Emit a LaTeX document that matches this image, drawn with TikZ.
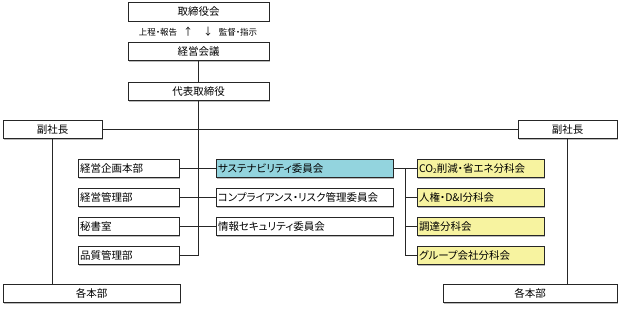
\documentclass[tikz,border=0pt]{standalone}
\usepackage{fontspec}
\setmainfont[RawFeature=+palt]{Noto Sans CJK JP}
\usetikzlibrary{shadows}
\definecolor{cyanfill}{HTML}{93D4DE}
\definecolor{yelfill}{HTML}{F7F3A0}
\definecolor{edge}{HTML}{262626}
\begin{document}
\begin{tikzpicture}[x=1pt,y=-1pt,
  box/.style={draw=edge, line width=0.8pt, fill=white, minimum height=18.5pt, inner ysep=0pt, inner xsep=2pt,
    font=\fontsize{10.5}{11}\selectfont,
    drop shadow={shadow xshift=1pt, shadow yshift=-1pt, fill=black!45, opacity=0.6}},
  cbox/.style={box, minimum width=#1},
  depbox/.style={box, text width=97pt, align=left},
  combox/.style={box, text width=173pt, align=left},
  subbox/.style={box, text width=123pt, align=left, fill=yelfill},
  conn/.style={draw=edge, line width=0.8pt},
  small/.style={inner sep=0pt, font=\fontsize{8.5}{9}\selectfont}]
\useasboundingbox (0,0) rectangle (620,308);

% top chain
\node[cbox=141pt] (board) at (198.5,12) {取締役会};
\node[cbox=141pt] (mgmt) at (198.5,51.5) {経営会議};
\node[cbox=141pt] (ceo) at (198.5,91.5) {代表取締役};
\node[small] (lblup) at (158,32) {上程・報告};
\node[small, font=\fontsize{10}{10}\selectfont] (arrup) at (188,32) {↑};
\node[small, font=\fontsize{10}{10}\selectfont] (arrdn) at (208,32) {↓};
\node[small] (lbldn) at (238,32) {監督・指示};

% vice presidents
\node[cbox=99pt] (vpL) at (52.5,129.5) {副社長};
\node[cbox=99pt] (vpR) at (567.5,129.5) {副社長};

% departments
\node[depbox] (d1) at (128.5,168.5) {経営企画本部};
\node[depbox] (d2) at (128.5,197.5) {経営管理部};
\node[depbox] (d3) at (128.5,226.5) {秘書室};
\node[depbox] (d4) at (128.5,255.5) {品質管理部};

% committees
\node[combox, fill=cyanfill] (c1) at (304.5,168.5) {サステナビリティ委員会};
\node[combox] (c2) at (304.5,197.5) {コンプライアンス・リスク管理委員会};
\node[combox] (c3) at (304.5,226.5) {情報セキュリティ委員会};

% subcommittees
\node[subbox] (s1) at (480.5,168.5) {CO\raisebox{-0.6pt}{\fontsize{6.5}{6.5}\selectfont 2}削減・省エネ分科会};
\node[subbox] (s2) at (480.5,197.5) {人権・D\&I分科会};
\node[subbox] (s3) at (480.5,226.5) {調達分科会};
\node[subbox] (s4) at (480.5,255.5) {グループ会社分科会};

% headquarters
\node[cbox=177pt] (hqL) at (91.5,293.5) {各本部};
\node[cbox=174pt] (hqR) at (530,293.5) {各本部};

% connectors
\draw[conn] (mgmt) -- (ceo);
\draw[conn] (ceo.south) |- (d4.east);
\draw[conn] (vpL.east) -- (vpR.west);
\draw[conn] (vpL.south) -- (vpL.south |- hqL.north);
\draw[conn] (vpR.south) -- (vpR.south |- hqR.north);
\draw[conn] (d1.east) -- (c1.west);
\draw[conn] (d2.east) -- (c2.west);
\draw[conn] (d3.east) -- (c3.west);
\draw[conn] (c1.east) -- (s1.west);
\coordinate (br) at (405,168.5);
\draw[conn] (br) |- (s2.west);
\draw[conn] (br) |- (s3.west);
\draw[conn] (br) |- (s4.west);
\end{tikzpicture}
\end{document}
